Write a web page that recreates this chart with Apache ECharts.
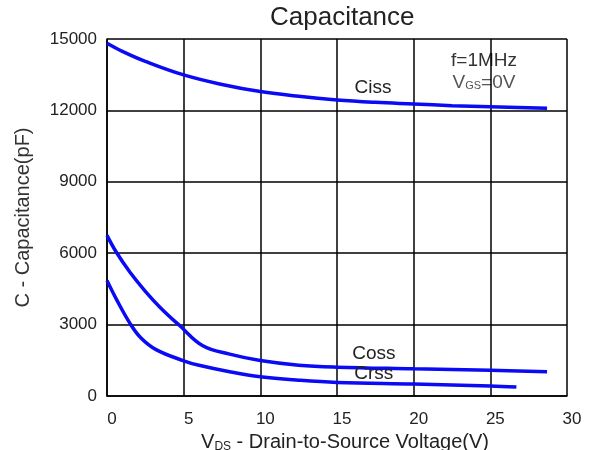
<!DOCTYPE html>
<html><head><meta charset="utf-8">
<script src="https://cdn.jsdelivr.net/npm/echarts@6/dist/echarts.min.js"></script>
<style>html,body{margin:0;padding:0;background:#fff}#c{width:590px;height:450px}</style>
</head><body><div id="c"></div>
<script>
// Data
const xTicks = [0, 5, 10, 15, 20, 25, 30];
const yTicks = [0, 3000, 6000, 9000, 12000, 15000];
const cissV = [0, 1, 2.5, 5, 7.5, 10, 12.5, 15, 17.5, 20, 22.5, 25, 28.7];
const cissC = [14820, 14480, 14060, 13490, 13090, 12790, 12590, 12440, 12340, 12270, 12200, 12150, 12090];
const cossV = [0, 0.6, 1.5, 2.5, 3.5, 4.75, 6.25, 8, 10, 12.5, 15, 20, 25, 28.7];
const cossC = [6750, 6050, 5200, 4400, 3700, 2950, 2110, 1760, 1490, 1295, 1212, 1142, 1077, 1020];
const crssV = [0, 0.6, 1.5, 2.2, 3.2, 5, 6, 8, 10, 12.5, 15, 20, 25, 26.7];
const crssC = [4850, 4080, 3050, 2450, 1950, 1480, 1290, 1020, 810, 665, 570, 500, 420, 380];

const pair = (xs, ys) => xs.map((x, i) => [x, ys[i]]);
const F = '"Liberation Sans", Arial, sans-serif';
const blue = '#0a0af5';

function curve(name, xs, ys, lx, ly) {
  return {
    name, type: 'line', data: pair(xs, ys), showSymbol: false, smooth: 0.4,
    lineStyle: { color: blue, width: 3.5 }, itemStyle: { color: blue },
    markPoint: {
      symbol: 'circle', symbolSize: 0, silent: true,
      data: [{ coord: [lx, ly], value: name }],
      label: { show: true, position: 'inside', formatter: name, color: '#222', fontSize: 19, fontFamily: F }
    }
  };
}

const chart = echarts.init(document.getElementById('c'), null, { renderer: 'canvas' });
chart.setOption({
  animation: false,
  backgroundColor: '#fff',
  title: {
    text: 'Capacitance', left: 270, top: 5, padding: 0,
    textStyle: { fontFamily: F, fontSize: 26, fontWeight: 'normal', color: '#222' }
  },
  grid: { left: 107, right: 23, top: 39, bottom: 54, containLabel: false, outerBoundsMode: 'none' },
  xAxis: {
    type: 'value', min: 0, max: 30, interval: 5,
    name: 'V{s|DS} - Drain-to-Source Voltage(V)', nameLocation: 'middle', nameGap: 33,
    nameTextStyle: { fontFamily: F, fontSize: 20, color: '#222', padding: [0, 0, 0, 16],
      rich: { s: { fontFamily: F, fontSize: 12, color: '#222', verticalAlign: 'bottom', padding: [6, 0, 0, 0] } } },
    axisLine: { show: true, lineStyle: { color: '#000', width: 1.5 } },
    axisTick: { show: false },
    axisLabel: { fontFamily: F, fontSize: 17, color: '#222', margin: 15, padding: [0, 0, 0, 10],
      formatter: v => xTicks.includes(v) ? String(v) : '' },
    splitLine: { show: true, lineStyle: { color: '#000', width: 1.5 } }
  },
  yAxis: {
    type: 'value', min: 0, max: 15000, interval: 3000,
    name: 'C - Capacitance(pF)', nameLocation: 'middle', nameGap: 74, nameRotate: 90,
    nameTextStyle: { fontFamily: F, fontSize: 20, color: '#333' },
    axisLine: { show: true, lineStyle: { color: '#000', width: 1.5 } },
    axisTick: { show: false },
    axisLabel: { fontFamily: F, fontSize: 17, color: '#222', margin: 10,
      formatter: v => yTicks.includes(v) ? String(v) : '' },
    splitLine: { show: true, lineStyle: { color: '#000', width: 1.5 } }
  },
  graphic: [
    { type: 'text', x: 484, y: 61, style: { text: 'f=1MHz', fontFamily: F, fontSize: 19, fill: '#333', textAlign: 'center', textVerticalAlign: 'middle' } },
    { type: 'text', x: 484, y: 83, style: { text: 'V{s|GS}=0V', fontFamily: F, fontSize: 19, fill: '#555', textAlign: 'center', textVerticalAlign: 'middle',
      rich: { s: { fontFamily: F, fontSize: 11, fill: '#555', padding: [5, 0, 0, 0] } } } }
  ],
  series: [
    curve('Ciss', cissV, cissC, 17.35, 12940),
    curve('Coss', cossV, cossC, 17.4, 1760),
    curve('Crss', crssV, crssC, 17.4, 920)
  ]
});
</script></body></html>
